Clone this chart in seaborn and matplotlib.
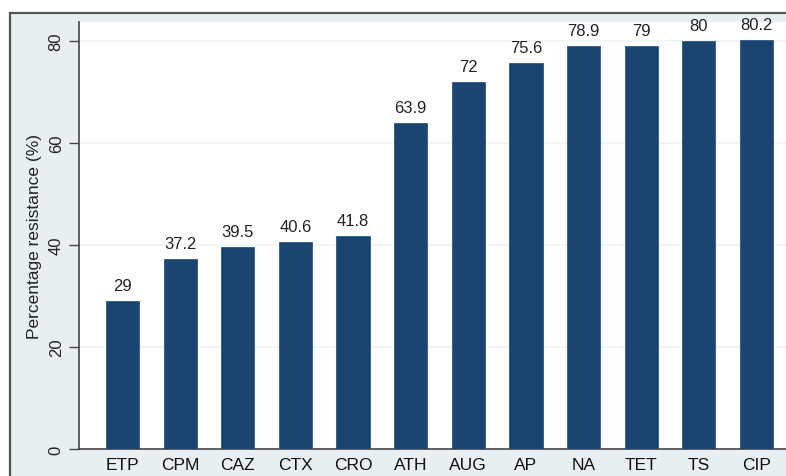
import matplotlib
matplotlib.use("Agg")
import matplotlib.pyplot as plt
import seaborn as sns
import pandas as pd
from matplotlib.patches import Rectangle

categories = ["ETP", "CPM", "CAZ", "CTX", "CRO", "ATH", "AUG", "AP", "NA", "TET", "TS", "CIP"]
values = [29, 37.2, 39.5, 40.6, 41.8, 63.9, 72, 75.6, 78.9, 79, 80, 80.2]
value_labels = ["29", "37.2", "39.5", "40.6", "41.8", "63.9", "72", "75.6", "78.9", "79", "80", "80.2"]
yticks = [0, 20, 40, 60, 80]

sns.set_theme(style="white")
plt.rcParams['font.family'] = ['Liberation Sans', 'DejaVu Sans']

W, H = 786, 477
fig = plt.figure(figsize=(W / 100, H / 100), dpi=100)
fig.patch.set_facecolor("white")

# background axes holding the outer frame (cropped on right/bottom)
bg = fig.add_axes([0, 0, 1, 1], zorder=0)
bg.set_xlim(0, W)
bg.set_ylim(H, 0)
bg.axis("off")
bg.add_patch(Rectangle((9.5, 14), W + 20, H + 20, facecolor="#e8eff3",
                       edgecolor="#555555", linewidth=1.6))

left, right, bottom, top = 79, 800, 450, 23
ax = fig.add_axes([left / W, (H - bottom) / H, (right - left) / W, (bottom - top) / H], zorder=1)
ax.set_facecolor("white")

df = pd.DataFrame({"drug": categories, "pct": values})
sns.barplot(data=df, x="drug", y="pct", color="#1a4570", saturation=1, width=0.575,
            edgecolor="#2c5a86", linewidth=0.6, ax=ax, zorder=3)

ax.set_ylim(0, 83.7)
ax.set_xlim(-0.755, len(categories) - 1 + 0.755)
ax.set_yticks(yticks)
ax.set_yticklabels([str(t) for t in yticks], rotation=90, va="center", fontsize=12, color="#222222")
ax.tick_params(axis="y", length=7, width=1, color="#444444", pad=4, direction="out", left=True)
ax.tick_params(axis="x", length=0, pad=5.5, labelsize=12.5, labelcolor="#111111")

for t in yticks[1:]:
    ax.axhline(t, color="#edf4f5", linewidth=1.2, zorder=1)

for i, (v, lab) in enumerate(zip(values, value_labels)):
    ax.text(i, v + 1.6, lab, ha="center", va="bottom", fontsize=12, color="#222222", zorder=4)

ax.set_xlabel("")
ax.set_ylabel("Percentage resistance (%)", fontsize=12.5, color="#222222", labelpad=5)

for s in ["top", "right"]:
    ax.spines[s].set_visible(False)
for s in ["left", "bottom"]:
    ax.spines[s].set_color("#444444")
    ax.spines[s].set_linewidth(1.2)

fig.savefig("out.png", dpi=100)
